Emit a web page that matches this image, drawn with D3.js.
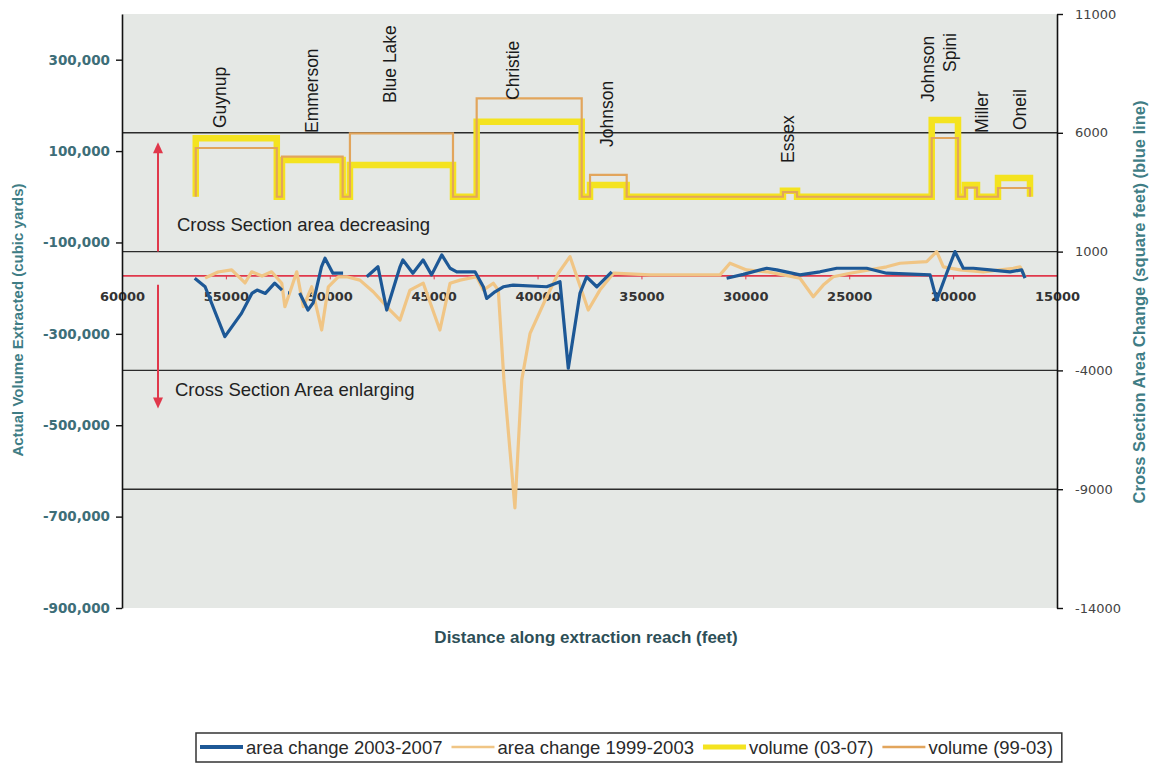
<!DOCTYPE html>
<html lang="en">
<head>
<meta charset="UTF-8">
<title>Extraction reach volume and area change</title>
<script src="https://d3js.org/d3.v7.min.js"></script>
<style>
  body { margin: 0; background: #fff; }
  svg text { font-family: "Liberation Sans", Arial, sans-serif; }
  .axis-left text { font-family: "DejaVu Sans", sans-serif; font-weight: bold; font-size: 13.5px; fill: #3d6e78; }
  .axis-right text { font-family: "DejaVu Sans", sans-serif; font-size: 13px; fill: #444; }
  .axis-x text { font-family: "DejaVu Sans", sans-serif; font-weight: bold; font-size: 13px; fill: #333; }
  .axis-title { font-weight: bold; fill: #3f7d85; }
  .site { font-size: 17.5px; fill: #1a1a1a; }
  .note { font-size: 18.5px; fill: #222; }
  .legend text { font-size: 18.5px; fill: #2a2a2a; }
</style>
</head>
<body>
<svg width="1154" height="765"></svg>
<script>
// distance along reach (feet) and cross section area change (sq ft); null = no data
const distArea0307 = [56500, 56000, 55050, 54250, 53750, 53500, 53100, 52650, 52300, 52150, 52010, 51960, 51700,
  51450, 51050, 50800, 50400, 50230, 49850, 49360, 48800, 48220, 47680, 47260, 46620, 46480, 46000, 45510, 45100,
  44610, 44210, 43890, 43010, 42610, 42450, 42050, 41650, 41170, 39560, 38920, 38520, 37960, 37640, 37150, 36430,
  33000, 30900, 30100, 28970, 28490, 27370, 26410, 25600, 24160, 23200, 21110, 20790, 20310, 19910, 19510, 19030,
  18230, 17260, 16700, 16540];
const area0307 = [-120, -480, -2580, -1600, -760, -620, -760, -330, -620, null, -740, -740, null,
  -740, -1460, -1160, 360, 720, 90, 90, null, -60, 360, -1460, 360, 650, 90, 650, 20,
  860, 300, 150, 150, -480, -970, -690, -480, -410, -480, -270, -3910, -760, -60, -480, 150,
  null, -120, 40, 300, 230, 20, 150, 300, 300, 90, 20, -1040, 90, 1000, 300, 300,
  230, 150, 230, -120];

const distArea9903 = [56000, 55380, 54720, 54080, 53760, 53260, 52800, 52310, 52160, 51830, 51590, 51270, 50870,
  50390, 50070, 49590, 49190, 48550, 47910, 47100, 46620, 46140, 45500, 44700, 44210, 43730, 42930, 42610, 42130,
  41890, 41620, 41090, 40760, 40360, 39560, 39000, 38440, 37560, 37000, 36350, 34590, 32180, 31220, 30740, 29940,
  28970, 28170, 27370, 26730, 26250, 25770, 24960, 23200, 22560, 21270, 20790, 20470, 19670, 18550, 17100, 16780,
  16540];
const area9903 = [-110, 140, 230, -320, 150, -30, 150, -330, -1320, -480, 150, -1320, -480,
  -2300, -480, -60, -60, -200, -690, -1460, -1880, -620, -330, -2300, -330, -200, -60, -620, -330,
  -620, -4400, -9790, -4400, -2440, -900, 90, 790, -1460, -620, 90, 20, 20, 20, 510, 230,
  150, 20, -120, -900, -410, -60, 90, 360, 510, 580, 1000, 360, 230, 150, 300, 360,
  -60];

// extraction sites: reach limits (feet) and volume extracted (cubic yards)
const sites = ["Guynup", "Emmerson", "Blue Lake", "Christie", "Johnson", "Essex", "Johnson Spini", "Miller", "Oneil"];
const siteStart = [56450, 52300, 49030, 42930, 37475, 28190, 21030, 19430, 17840];
const siteEnd = [52550, 49380, 44070, 37875, 35710, 27510, 19765, 18850, 16300];
const vol0307 = [128000, 80500, 69500, 164000, 25800, 13000, 168000, 25800, 41000];
const vol9903 = [106700, 87700, 138900, 215500, 47700, 10000, 128600, 20000, 19200];

const siteLabels = ["Guynup", "Emmerson", "Blue Lake", "Christie", "Johnson", "Essex", "Johnson", "Spini", "Miller", "Oneil"];
const siteLabelDist = [55280, 50870, 47100, 41180, 36670, 27950, 21210, 20150, 18620, 16780];

const leftTicks = [300000, 100000, -100000, -300000, -500000, -700000, -900000];
const rightTicks = [11000, 6000, 1000, -4000, -9000, -14000];
const xTicks = [60000, 55000, 50000, 45000, 40000, 35000, 30000, 25000, 20000, 15000];

const legendItems = ["area change 2003-2007", "area change 1999-2003", "volume (03-07)", "volume (99-03)"];

// ---- layout
const plot = { left: 122, right: 1057, top: 14, bottom: 608 };
const svg = d3.select("svg");

const x = d3.scaleLinear().domain([60000, 15000]).range([plot.left, plot.right]);
const yL = d3.scaleLinear().domain([-900000, 400000]).range([plot.bottom, plot.top]);
const yR = d3.scaleLinear().domain([-14000, 11000]).range([plot.bottom, plot.top]);

const colBlue = "#1d5896", colTan = "#f0c585", colYellow = "#f4e31f", colOrange = "#e2a55c", colRed = "#e0384b";

svg.append("rect")
  .attr("x", plot.left).attr("y", plot.top)
  .attr("width", plot.right - plot.left).attr("height", plot.bottom - plot.top)
  .attr("fill", "#e5e8e5");

// gridlines on the right axis ticks
svg.append("g").selectAll("line")
  .data(rightTicks.filter(d => d !== 11000 && d !== -14000))
  .enter().append("line")
  .attr("x1", plot.left).attr("x2", plot.right)
  .attr("y1", d => yR(d)).attr("y2", d => yR(d))
  .attr("stroke", "#2b2b2b").attr("stroke-width", 1.4);

// x axis on zero of area change
const xAxis = svg.append("g")
  .attr("class", "axis-x")
  .attr("transform", `translate(0,${yR(0)})`)
  .call(d3.axisBottom(x).tickValues(xTicks).tickSize(4).tickSizeOuter(0).tickPadding(12).tickFormat(d3.format("d")));
xAxis.select(".domain").attr("stroke", colRed).attr("stroke-width", 1.6);
xAxis.selectAll(".tick line").attr("stroke", colRed);

// volume step lines
function stepPoints(vals) {
  const pts = [];
  vals.forEach((v, i) => {
    pts.push([siteStart[i], 0], [siteStart[i], v], [siteEnd[i], v], [siteEnd[i], 0]);
  });
  return pts;
}
const stepLine = d3.line().x(p => x(p[0])).y(p => yL(p[1]));

svg.append("path")
  .attr("d", stepLine(stepPoints(vol0307)))
  .attr("fill", "none").attr("stroke", colYellow).attr("stroke-width", 6.5)
  .attr("stroke-linejoin", "miter");
svg.append("path")
  .attr("d", stepLine(stepPoints(vol9903)))
  .attr("fill", "none").attr("stroke", colOrange).attr("stroke-width", 2.2);

// area change lines
const areaLine = d3.line()
  .defined(d => d[1] !== null)
  .x(d => x(d[0])).y(d => yR(d[1]));

svg.append("path")
  .attr("d", areaLine(distArea9903.map((d, i) => [d, area9903[i]])))
  .attr("fill", "none").attr("stroke", colTan).attr("stroke-width", 3.2)
  .attr("stroke-linejoin", "round");
svg.append("path")
  .attr("d", areaLine(distArea0307.map((d, i) => [d, area0307[i]])))
  .attr("fill", "none").attr("stroke", colBlue).attr("stroke-width", 3.2)
  .attr("stroke-linejoin", "round");

// left axis
const fmtComma = d => d3.format(",")(d).replace("\u2212", "-");
const leftAxis = svg.append("g")
  .attr("class", "axis-left")
  .attr("transform", `translate(${plot.left},0)`)
  .call(d3.axisLeft(yL).tickValues(leftTicks).tickSize(6).tickSizeOuter(0).tickPadding(6).tickFormat(fmtComma));
leftAxis.select(".domain").attr("stroke", "#111").attr("stroke-width", 1.6);
leftAxis.selectAll(".tick line").attr("stroke", "#111").attr("stroke-width", 1.4);

// right axis
const rightAxis = svg.append("g")
  .attr("class", "axis-right")
  .attr("transform", `translate(${plot.right},0)`)
  .call(d3.axisRight(yR).tickValues(rightTicks).tickSize(6).tickSizeOuter(0).tickPadding(12)
    .tickFormat(d => String(d)));
rightAxis.select(".domain").attr("stroke", "#111").attr("stroke-width", 1.6);
rightAxis.selectAll(".tick line").attr("stroke", "#111").attr("stroke-width", 1.4);

// site names (rotated)
const siteLabelBottom = [128, 133, 103, 100, 147, 163, 102, 72, 133, 130];
svg.append("g").selectAll("text")
  .data(siteLabels)
  .enter().append("text")
  .attr("class", "site")
  .attr("transform", (d, i) => `translate(${x(siteLabelDist[i])},${siteLabelBottom[i]}) rotate(-90)`)
  .attr("dy", "0.35em")
  .text(d => d);

// red arrows
const arrows = [{ from: 1000, to: 5600 }, { from: -400, to: -5600 }];
const arrowX = 158;
arrows.forEach(a => {
  const y0 = yR(a.from), y1 = yR(a.to);
  const dir = y1 < y0 ? 1 : -1;
  svg.append("line")
    .attr("x1", arrowX).attr("x2", arrowX)
    .attr("y1", y0).attr("y2", y1 + dir * 8)
    .attr("stroke", colRed).attr("stroke-width", 2);
  svg.append("path")
    .attr("d", `M${arrowX},${y1} L${arrowX - 5},${y1 + dir * 11} L${arrowX + 5},${y1 + dir * 11} Z`)
    .attr("fill", colRed);
});

svg.append("text").attr("class", "note")
  .attr("x", 177).attr("y", 231)
  .text("Cross Section area decreasing");
svg.append("text").attr("class", "note")
  .attr("x", 175).attr("y", 396)
  .text("Cross Section Area enlarging");

// axis titles
svg.append("text").attr("class", "axis-title")
  .attr("transform", "translate(23,320) rotate(-90)")
  .attr("text-anchor", "middle").style("font-size", "15px")
  .text("Actual Volume Extracted (cubic yards)");
svg.append("text").attr("class", "axis-title")
  .attr("transform", "translate(1145,302) rotate(-90)")
  .attr("text-anchor", "middle").style("font-size", "16.5px")
  .text("Cross Section Area Change (square feet) (blue line)");
svg.append("text")
  .attr("x", 586).attr("y", 643)
  .attr("text-anchor", "middle")
  .style("font-size", "17px").style("font-weight", "bold").style("fill", "#2d4f57")
  .text("Distance along extraction reach (feet)");

// legend
const legend = svg.append("g").attr("class", "legend");
const legendBox = legend.append("rect")
  .attr("x", 196).attr("y", 733).attr("width", 870).attr("height", 29)
  .attr("fill", "#fff").attr("stroke", "#333").attr("stroke-width", 1.5);
const swatches = [
  { c: colBlue, w: 4 }, { c: colTan, w: 2.5 }, { c: colYellow, w: 5 }, { c: colOrange, w: 2.5 }
];
let cx = 200;
legendItems.forEach((name, i) => {
  legend.append("line")
    .attr("x1", cx).attr("x2", cx + 43).attr("y1", 747).attr("y2", 747)
    .attr("stroke", swatches[i].c).attr("stroke-width", swatches[i].w);
  const t = legend.append("text").attr("x", cx + 46).attr("y", 754).text(name);
  cx += 46 + t.node().getComputedTextLength() + 9;
});
legendBox.attr("width", cx - 196);
</script>
</body>
</html>
